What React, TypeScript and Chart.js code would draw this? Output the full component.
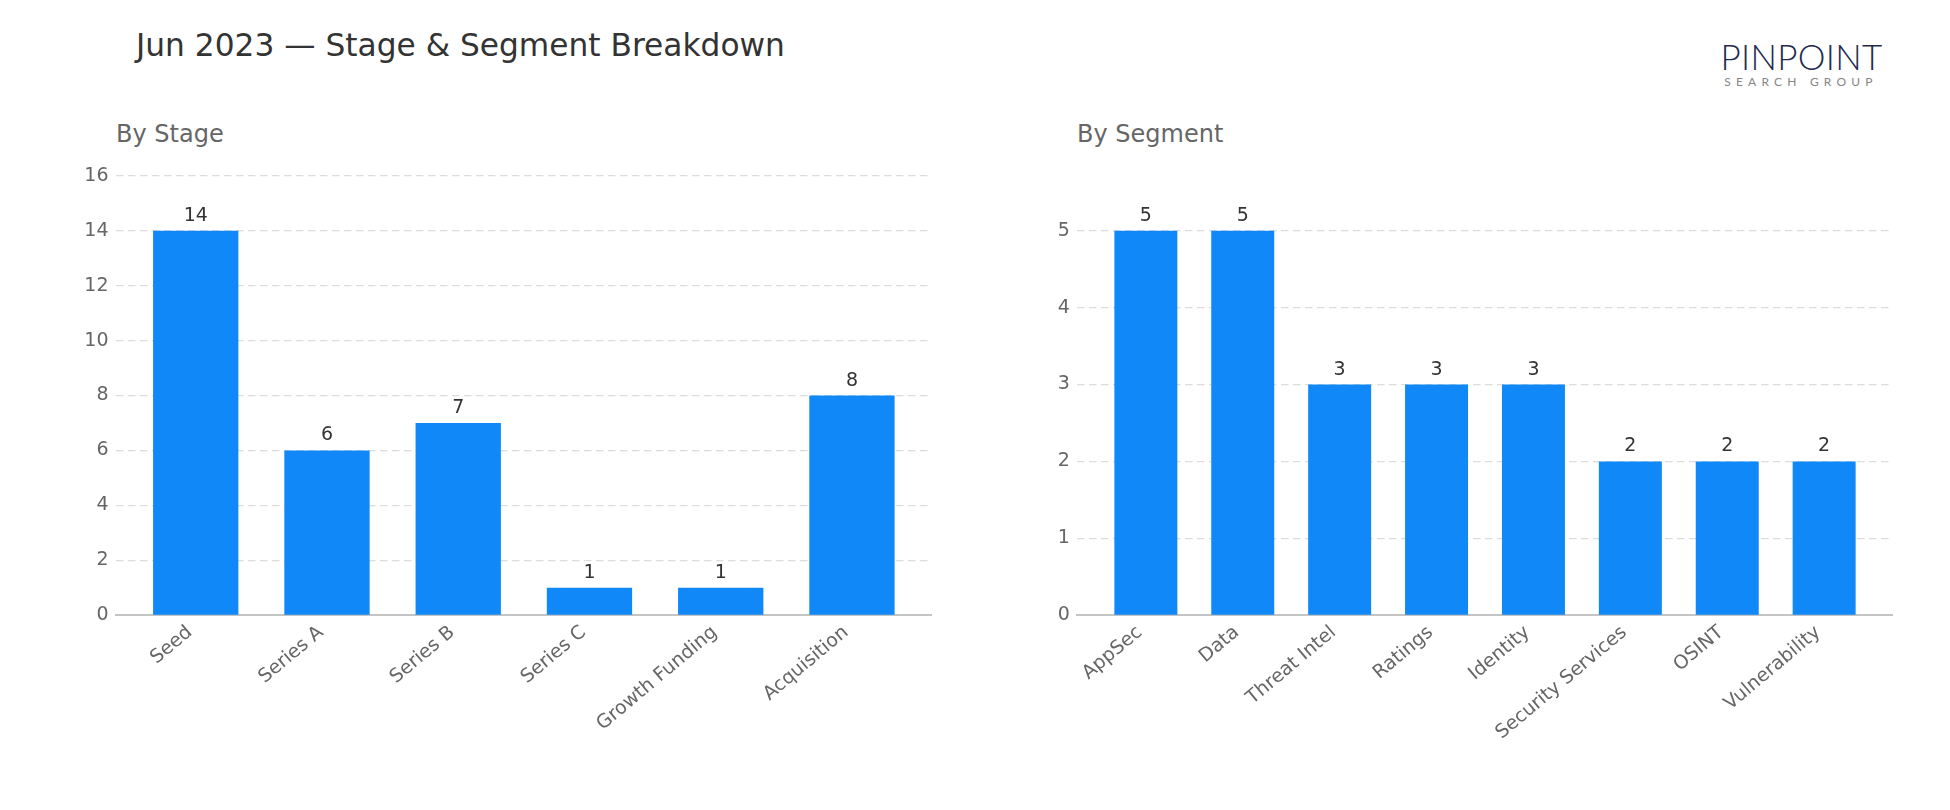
import React, { useEffect, useRef } from 'react';
import { Chart, registerables } from 'chart.js';

Chart.register(...registerables);

// ---- Data ----
const stageLabels = ['Seed', 'Series A', 'Series B', 'Series C', 'Growth Funding', 'Acquisition'];
const stageCounts = [14, 6, 7, 1, 1, 8];
const stageYMax = 16.1;
const stageYStep = 2;
const stageXRange = [-0.6075, 5.6075];

const segmentLabels = ['AppSec', 'Data', 'Threat Intel', 'Ratings', 'Identity', 'Security Services', 'OSINT', 'Vulnerability'];
const segmentCounts = [5, 5, 3, 3, 3, 2, 2, 2];
const segmentYMax = 5.75;
const segmentYStep = 1;
const segmentXRange = [-0.7075, 7.7075];

const FONT = '"DejaVu Sans", Verdana, sans-serif';
const BAR_COLOR = '#1188f8';

const valueLabelPlugin = {
  id: 'valueLabels',
  afterDatasetsDraw(chart: any) {
    const ctx = chart.ctx;
    const meta = chart.getDatasetMeta(0);
    const data = chart.data.datasets[0].data as any[];
    ctx.save();
    ctx.font = '19px ' + FONT;
    ctx.fillStyle = '#333333';
    ctx.textAlign = 'center';
    ctx.textBaseline = 'alphabetic';
    meta.data.forEach((bar: any, i: number) => {
      ctx.fillText(String(data[i].y), bar.x, bar.y - 10);
    });
    ctx.restore();
  },
};

type BarProps = {
  labels: string[];
  values: number[];
  yMax: number;
  yStep: number;
  xRange: number[];
  left: number;
  width: number;
  yAxisWidth: number;
  padRight: number;
};

const CANVAS_TOP = 150;
const CANVAS_H = 660;
const PAD_TOP = 23;
const X_AXIS_H = 194.7;

function BarChart(p: BarProps) {
  const ref = useRef<HTMLCanvasElement | null>(null);
  useEffect(() => {
    if (!ref.current) return;
    const chart = new Chart(ref.current, {
      type: 'bar',
      data: {
        datasets: [
          {
            data: p.values.map((v, i) => ({ x: i, y: v })),
            backgroundColor: BAR_COLOR,
            borderWidth: 0,
            categoryPercentage: 1,
            barPercentage: 0.65,
          } as any,
        ],
      },
      options: {
        responsive: false,
        maintainAspectRatio: false,
        animation: false,
        devicePixelRatio: 1,
        layout: { padding: { top: PAD_TOP, right: p.padRight, left: 0, bottom: 0 } },
        plugins: { legend: { display: false }, tooltip: { enabled: false }, title: { display: false } },
        scales: {
          x: {
            type: 'linear',
            min: p.xRange[0],
            max: p.xRange[1],
            offset: false,
            grid: { display: false, drawTicks: false },
            border: { display: true, color: '#c4c4c4', width: 2 },
            ticks: {
              stepSize: 1,
              includeBounds: false,
              autoSkip: false,
              minRotation: 40,
              maxRotation: 40,
              padding: 6,
              labelOffset: -6,
              color: '#666666',
              font: { family: FONT, size: 19 },
              callback: (v: any) => {
                const n = Number(v);
                return Number.isInteger(n) && p.labels[n] !== undefined ? p.labels[n] : '';
              },
            },
            afterFit: (scale: any) => {
              scale.height = X_AXIS_H;
            },
          } as any,
          y: {
            type: 'linear',
            min: 0,
            max: p.yMax,
            grid: {
              drawTicks: false,
              color: (c: any) => (c.tick && c.tick.value === 0 ? 'rgba(0,0,0,0)' : '#dcdcdc'),
              lineWidth: 1.3,
            },
            border: { display: false, dash: [7.5, 4.5] },
            ticks: {
              stepSize: p.yStep,
              includeBounds: false,
              padding: 7.5,
              color: '#666666',
              font: { family: FONT, size: 19 },
            },
            afterFit: (scale: any) => {
              scale.width = p.yAxisWidth;
            },
          } as any,
        },
      },
      plugins: [valueLabelPlugin],
    });
    return () => chart.destroy();
  }, []);
  return (
    <canvas
      ref={ref}
      width={p.width}
      height={CANVAS_H}
      style={{ position: 'absolute', left: p.left, top: CANVAS_TOP, width: p.width, height: CANVAS_H }}
    />
  );
}

export default function App() {
  return (
    <div style={{ position: 'absolute', left: 0, top: 0, width: 1950, height: 810, background: '#ffffff', fontFamily: FONT, overflow: 'hidden' }}>
      <div style={{ position: 'absolute', left: 136, top: 30, fontSize: 31.25, lineHeight: '31px', color: '#333333', whiteSpace: 'nowrap' }}>
        Jun 2023 — Stage &amp; Segment Breakdown
      </div>
      <div style={{ position: 'absolute', left: 116, top: 121.5, fontSize: 24, lineHeight: '24px', color: '#666666', whiteSpace: 'nowrap' }}>
        By Stage
      </div>
      <div style={{ position: 'absolute', left: 1077, top: 121.5, fontSize: 24, lineHeight: '24px', color: '#666666', whiteSpace: 'nowrap' }}>
        By Segment
      </div>
      <div style={{ position: 'absolute', left: 1714, top: 38, width: 172, textAlign: 'center', whiteSpace: 'nowrap' }}>
        <div style={{ fontFamily: 'Lato, "Noto Sans", sans-serif', fontSize: 35, lineHeight: '36px', color: '#232a4d', letterSpacing: 0.33, fontWeight: 300, paddingLeft: 3 }}>
          PINPOINT
        </div>
        <div style={{ fontFamily: 'Lato, "Noto Sans", sans-serif', fontSize: 12, lineHeight: '14px', color: '#858585', letterSpacing: 5.2, marginTop: 1, paddingLeft: 2 }}>
          SEARCH GROUP
        </div>
      </div>
      <BarChart
        labels={stageLabels}
        values={stageCounts}
        yMax={stageYMax}
        yStep={stageYStep}
        xRange={stageXRange}
        left={0}
        width={960}
        yAxisWidth={116}
        padRight={28.3}
      />
      <BarChart
        labels={segmentLabels}
        values={segmentCounts}
        yMax={segmentYMax}
        yStep={segmentYStep}
        xRange={segmentXRange}
        left={960}
        width={990}
        yAxisWidth={117.3}
        padRight={57.3}
      />
    </div>
  );
}
